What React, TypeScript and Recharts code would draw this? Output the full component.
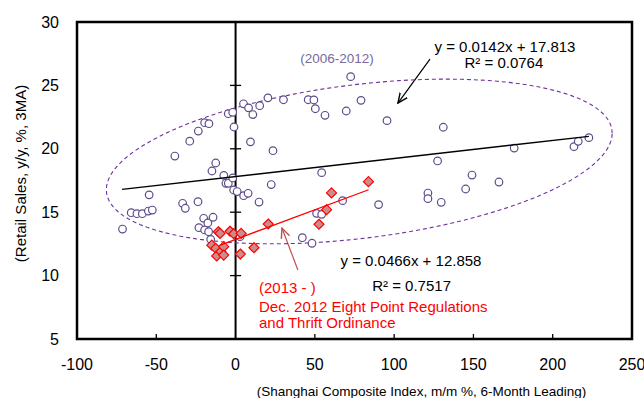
import {
  ScatterChart,
  Scatter,
  XAxis,
  YAxis,
  ReferenceLine,
  ReferenceArea,
  ReferenceDot,
} from 'recharts';

const FONT = '"Liberation Sans", Arial, sans-serif';

const xTicks = [-100, -50, 0, 50, 100, 150, 200, 250];
const yTicks = [5, 10, 15, 20, 25, 30];
const innerYTicks = [10, 15, 20, 25];
const innerXTicks = [-50, 50, 100, 150, 200];

// (Shanghai m/m % 6M leading, retail sales y/y 3MA), 2006-2012
const points0612: [number, number][] = [
  [-71.3, 13.67], [-65.8, 14.96], [-62.2, 14.88], [-58.8, 14.88], [-55.0, 15.09],
  [-52.5, 15.17], [-54.5, 16.37], [-38.3, 19.43], [-33.4, 15.7], [-31.7, 15.31],
  [-28.9, 20.6], [-23.5, 21.4], [-23.7, 15.83], [-23.1, 13.78], [-20.1, 14.52],
  [-19.5, 22.06], [-19.5, 13.6], [-17.5, 14.15], [-17.0, 13.46], [-16.8, 21.98],
  [-15.7, 12.86], [-14.9, 18.25], [-14.2, 14.6], [-12.5, 18.88], [-7.4, 17.9],
  [-6.1, 17.28], [-4.6, 17.28], [-4.6, 22.77], [-1.8, 22.88], [-1.0, 21.72],
  [-1.8, 17.7], [-1.2, 16.75], [1.0, 16.63], [2.8, 13.07], [5.0, 23.55],
  [5.1, 16.3], [7.9, 16.49], [8.2, 23.23], [9.4, 20.55], [10.9, 22.7],
  [14.8, 15.8], [15.2, 23.4], [20.4, 24.02], [22.5, 17.18], [23.6, 19.85],
  [30.2, 23.87], [42.1, 12.99], [45.8, 23.87], [48.2, 12.55], [49.4, 23.85],
  [50.3, 23.16], [51.1, 14.91], [54.3, 14.83], [54.3, 18.12], [56.4, 22.64],
  [67.5, 15.91], [69.8, 22.98], [72.6, 25.69], [79.1, 23.82], [90.2, 15.6],
  [95.5, 22.22], [121.3, 16.51], [121.3, 16.07], [127.4, 19.04], [129.7, 15.78],
  [131.0, 21.7], [145.1, 16.83], [149.1, 17.93], [166.1, 17.38], [175.7, 20.06],
  [213.4, 20.17], [216.1, 20.59], [222.8, 20.88],
];

// 2013 onwards
const points2013: [number, number][] = [
  [-15.0, 12.4], [-12.5, 12.15], [-11.9, 11.55], [-10.9, 13.46], [-9.8, 13.33],
  [-9.3, 11.9], [-7.5, 12.28], [-7.5, 11.62], [-3.5, 13.5], [-1.2, 13.3],
  [3.5, 13.33], [3.0, 11.7], [11.6, 12.2], [20.6, 14.07], [52.6, 14.05],
  [57.4, 15.2], [60.5, 16.52], [83.8, 17.41],
];

const trend0612: [number, number][] = [[-71.6, 16.8], [222.8, 20.98]];
const trend2013: [number, number][] = [[-10, 12.39], [83.9, 16.77]];

// dashed ellipse around the 2006-2012 cloud
const ellipseCenter = { x: 78, y: 19.0 };
const ellipseHalfWidth = 159.5;
const ellipseTilt = 2.23;
const ellipseHalfHeight = 6.1;

const toXY = (pts: [number, number][]) => pts.map(([x, y]) => ({ x, y }));

const ellipsePts = Array.from({ length: 121 }, (_, i) => {
  const t = (i / 120) * Math.PI * 2;
  return {
    x: ellipseCenter.x + ellipseHalfWidth * Math.cos(t),
    y: ellipseCenter.y + ellipseTilt * Math.cos(t) + ellipseHalfHeight * Math.sin(t),
  };
});

const Ring = (p: any) => (
  <circle cx={p.cx} cy={p.cy} r={3.8} fill="#fff" stroke="#5E4B8B" strokeWidth={1.2} />
);

const Diamond = (p: any) => {
  const s = 5;
  return (
    <polygon
      points={`${p.cx},${p.cy - s} ${p.cx + s},${p.cy} ${p.cx},${p.cy + s} ${p.cx - s},${p.cy}`}
      fill="#CC8C8C"
      stroke="#FF0000"
      strokeWidth={1.2}
    />
  );
};

const NoShape = () => <g />;

function note(
  key: string,
  x: number,
  y: number,
  text: string,
  color: string,
  size: number,
  anchor: 'start' | 'middle' = 'middle',
) {
  return (
    <ReferenceDot
      key={key}
      x={x}
      y={y}
      r={0}
      fill="none"
      stroke="none"
      label={({ viewBox }: any) => (
        <text
          x={viewBox.x + viewBox.width / 2}
          y={viewBox.y + viewBox.height / 2}
          textAnchor={anchor}
          dominantBaseline="central"
          fill={color}
          fontSize={size}
          fontFamily={FONT}
        >
          {text}
        </text>
      )}
    />
  );
}

export default function App() {
  return (
    <div style={{ width: 644, height: 398, fontFamily: FONT }}>
      <style>{'body{margin:0}'}</style>
      <ScatterChart width={644} height={398} margin={{ top: 22, right: 12, bottom: 0, left: 0 }}>
        <defs>
          <marker id="arrowK" viewBox="0 0 10 10" refX="9" refY="5" markerWidth="11" markerHeight="11" orient="auto" markerUnits="userSpaceOnUse">
            <path d="M0,1 L9,5 L0,9" fill="none" stroke="#000" strokeWidth="1.3" />
          </marker>
          <marker id="arrowR" viewBox="0 0 10 10" refX="9" refY="5" markerWidth="11" markerHeight="11" orient="auto" markerUnits="userSpaceOnUse">
            <path d="M0,1 L9,5 L0,9" fill="none" stroke="#C0504D" strokeWidth="1.3" />
          </marker>
        </defs>
        <XAxis
          type="number"
          dataKey="x"
          domain={[-100, 250]}
          ticks={xTicks}
          axisLine={false}
          tickLine={false}
          tickSize={0}
          tickMargin={20}
          height={59}
          interval={0}
          tick={{ fontSize: 16, fill: '#000', fontFamily: FONT }}
          label={({ viewBox }: any) => (
            <text
              x={viewBox.x + viewBox.width / 2 + 67}
              y={viewBox.y + viewBox.height - 2}
              textAnchor="middle"
              fontSize={13.5}
              fontFamily={FONT}
              fill="#000"
            >
              (Shanghai Composite Index, m/m %, 6-Month Leading)
            </text>
          )}
        />
        <YAxis
          type="number"
          dataKey="y"
          domain={[5, 30]}
          ticks={yTicks}
          axisLine={false}
          tickLine={false}
          tickSize={0}
          tickMargin={18}
          width={77}
          interval={0}
          tick={{ fontSize: 16, fill: '#000', fontFamily: FONT }}
          label={({ viewBox }: any) => {
            const cx = viewBox.x + 20;
            const cy = viewBox.y + viewBox.height / 2 - 7;
            return (
              <text
                x={cx}
                y={cy}
                transform={`rotate(-90 ${cx} ${cy})`}
                textAnchor="middle"
                dominantBaseline="central"
                fontSize={15}
                fontFamily={FONT}
                fill="#000"
              >
                (Retail Sales, y/y, %, 3MA)
              </text>
            );
          }}
        />

        <ReferenceArea x1={-100} x2={250} y1={5} y2={30} fill="none" stroke="#000" strokeWidth={2.5} />
        <ReferenceLine x={0} stroke="#000" strokeWidth={2} />
        {innerYTicks.map((v) => (
          <ReferenceLine key={`yt${v}`} segment={[{ x: -3.5, y: v }, { x: 3.5, y: v }]} stroke="#000" strokeWidth={1.3} />
        ))}
        {innerXTicks.map((v) => (
          <ReferenceLine key={`xt${v}`} segment={[{ x: v, y: 5 }, { x: v, y: 5.4 }]} stroke="#000" strokeWidth={1.3} />
        ))}

        <Scatter
          data={ellipsePts}
          line={{ stroke: '#7030A0', strokeWidth: 1.1, strokeDasharray: '4 3' }}
          shape={NoShape}
          isAnimationActive={false}
        />
        <Scatter data={toXY(points0612)} shape={Ring} isAnimationActive={false} />
        <Scatter data={toXY(points2013)} shape={Diamond} isAnimationActive={false} />
        <Scatter
          data={toXY(trend0612)}
          line={{ stroke: '#000', strokeWidth: 1.5 }}
          shape={NoShape}
          isAnimationActive={false}
        />
        <Scatter
          data={toXY(trend2013)}
          line={{ stroke: '#FF0000', strokeWidth: 1.3 }}
          shape={NoShape}
          isAnimationActive={false}
        />

        <ReferenceLine
          segment={[{ x: 122.6, y: 27.08 }, { x: 102.4, y: 23.61 }]}
          stroke="#000"
          strokeWidth={1.2}
          markerEnd="url(#arrowK)"
        />
        <ReferenceLine
          segment={[{ x: 39.3, y: 10.44 }, { x: 29.25, y: 13.75 }]}
          stroke="#C0504D"
          strokeWidth={1.2}
          markerEnd="url(#arrowR)"
        />

        {note('n1', 64, 27.16, '(2006-2012)', '#7A6A9C', 13.5)}
        {note('n2', 169.9, 28.1, 'y = 0.0142x + 17.813', '#000', 15)}
        {note('n3', 169.2, 26.8, 'R² = 0.0764', '#000', 15)}
        {note('n4', 110.6, 11.19, 'y = 0.0466x + 12.858', '#000', 15)}
        {note('n5', 111, 9.18, 'R² = 0.7517', '#000', 15)}
        {note('n6', 14.8, 9.06, '(2013 - )', '#FF0000', 15, 'start')}
        {note('n7', 14.8, 7.6, 'Dec. 2012 Eight Point Regulations', '#FF0000', 15, 'start')}
        {note('n8', 14.8, 6.3, 'and Thrift Ordinance', '#FF0000', 15, 'start')}
      </ScatterChart>
    </div>
  );
}
